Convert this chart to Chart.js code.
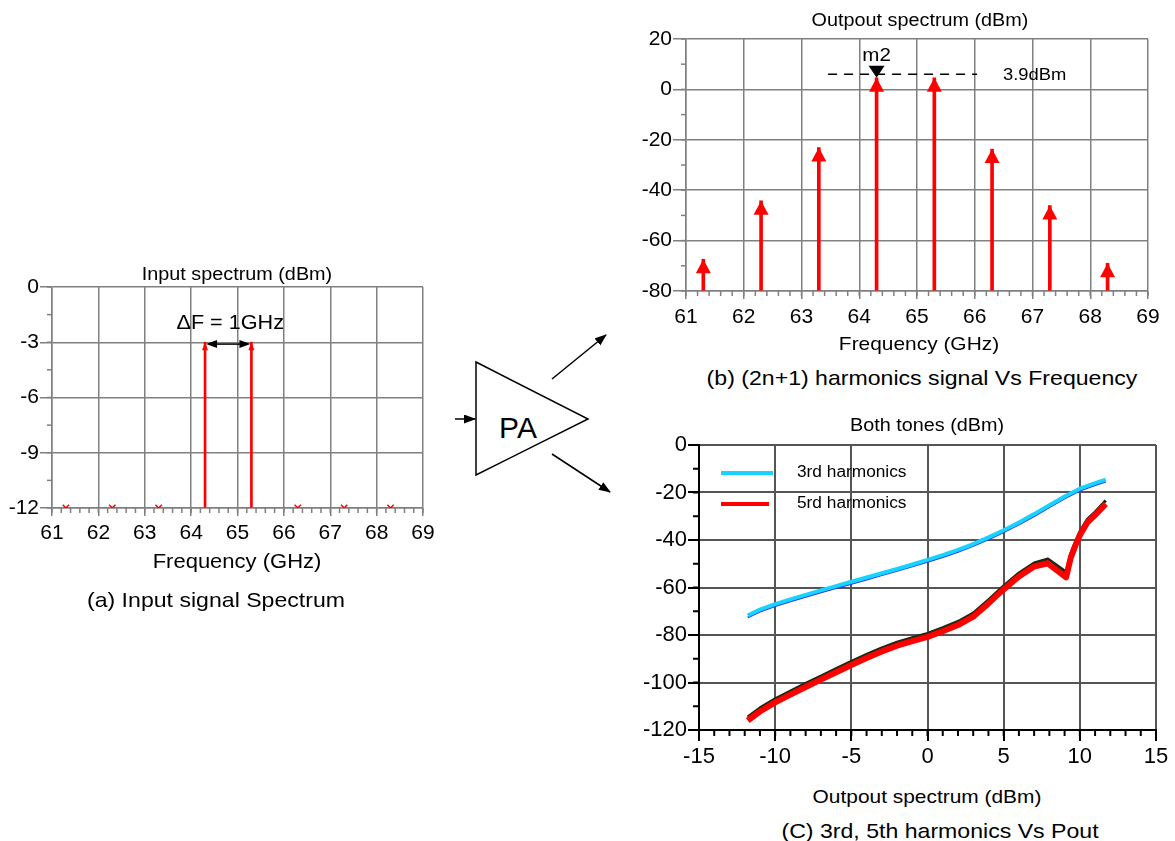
<!DOCTYPE html>
<html>
<head>
<meta charset="utf-8">
<script src="https://cdn.jsdelivr.net/npm/chart.js@4.4.0/dist/chart.umd.min.js"></script>
<style>
  body { margin: 0; width: 1175px; height: 841px; background: #fff; position: relative; overflow: hidden;
         font-family: "Liberation Sans", Arial, sans-serif; color: #000; }
  .box { position: absolute; }
  .t { position: absolute; transform: translate(-50%, -50%) scaleX(1.1); white-space: nowrap; line-height: 1; }
</style>
</head>
<body>

<svg class="box" style="left:0;top:0" width="1175" height="841">
  <defs>
    <marker id="head" markerUnits="userSpaceOnUse" markerWidth="12" markerHeight="10" refX="11" refY="4.5" orient="auto">
      <path d="M0,0 L12,4.5 L0,9 z" fill="#000"/>
    </marker>
  </defs>
  <polygon points="476,362 588,419 476,475" fill="none" stroke="#000" stroke-width="1.5"/>
  <line x1="455" y1="419" x2="475" y2="419" stroke="#000" stroke-width="1.5" marker-end="url(#head)"/>
  <text x="518" y="438" font-size="30" text-anchor="middle" font-family="Liberation Sans, Arial, sans-serif">PA</text>
  <line x1="552" y1="379" x2="606" y2="335" stroke="#000" stroke-width="1.5" marker-end="url(#head)"/>
  <line x1="552" y1="454" x2="610" y2="492" stroke="#000" stroke-width="1.5" marker-end="url(#head)"/>
</svg>

<div class="box" style="left:0;top:273px;width:440px;height:280px"><canvas id="chartIn"></canvas></div>
<div class="box" style="left:600px;top:25px;width:575px;height:311px"><canvas id="chartOut"></canvas></div>
<div class="box" style="left:600px;top:430px;width:575px;height:345px"><canvas id="chartHarm"></canvas></div>

<div class="t" style="left:237px;top:274px;font-size:18px">Input spectrum (dBm)</div>
<div class="t" style="left:237px;top:561px;font-size:20px">Frequency (GHz)</div>
<div class="t" style="left:216px;top:599px;font-size:21px">(a) Input signal Spectrum</div>

<div class="t" style="left:920px;top:20px;font-size:18px">Outpout spectrum (dBm)</div>
<div class="t" style="left:919px;top:343px;font-size:19px">Frequency (GHz)</div>
<div class="t" style="left:922px;top:377px;font-size:21px">(b) (2n+1) harmonics signal Vs Frequency</div>

<div class="t" style="left:927px;top:425px;font-size:18px">Both tones (dBm)</div>
<div class="t" style="left:927px;top:796px;font-size:19px">Outpout spectrum (dBm)</div>
<div class="t" style="left:940px;top:830px;font-size:21px">(C) 3rd, 5th harmonics Vs Pout</div>

<script>
const FONT = '"Liberation Sans", Arial, sans-serif';

// (a) input spectrum
const inFreq = [64.3, 65.3];
const inPower = [-3, -3];
const inSpurFreq = [61.3, 62.3, 63.3, 66.3, 67.3, 68.3];
const inSpurPower = [-12, -12, -12, -12, -12, -12];
const inXTicks = [61, 62, 63, 64, 65, 66, 67, 68, 69];
const inYTicks = [-12, -9, -6, -3, 0];
const deltaLevel = -3.1;

// (b) output spectrum
const outFreq = [61.3, 62.3, 63.3, 64.3, 65.3, 66.3, 67.3, 68.3];
const outPower = [-67.4, -44.2, -23.1, 4.6, 4.6, -23.7, -46.1, -69];
const outXTicks = [61, 62, 63, 64, 65, 66, 67, 68, 69];
const outYTicks = [-80, -60, -40, -20, 0, 20];
const markerFreq = [64.3];
const markerPower = [4.6];
const markerLineFreq = [63.46, 66.04];
const markerLineLevel = [6, 6];

// (c) harmonics vs output power
const pout3 = [-11.8, -11, -10, -9, -8, -7, -6, -5, -4, -3, -2, -1, 0, 1, 2, 3, 4, 5, 6, 7, 8, 9, 10, 11, 11.7];
const harm3 = [-71.8, -69.3, -67, -65, -63.1, -61.2, -59.4, -57.6, -55.8, -54, -52.2, -50.3, -48.4, -46.4, -44.2, -41.7, -38.9, -35.9, -32.6, -29.1, -25.4, -21.7, -18.4, -16.1, -14.6];
const harm3Under = [-72.6, -70.1, -67.8, -65.8, -63.9, -62, -60.2, -58.4, -56.6, -54.8, -53, -51.1, -49.2, -47.2, -45, -42.5, -39.7, -36.7, -33.4, -29.9, -26.2, -22.5, -19.2, -16.9, -15.4];
const pout5 = [-11.8, -11, -10, -9, -8, -7, -6, -5, -4, -3, -2, -1, 0, 1, 2, 3, 4, 5, 6, 7, 7.9, 9.1, 9.4, 9.7, 10, 10.5, 11, 11.7];
const harm5 = [-116, -112.2, -108.4, -105.1, -101.9, -98.8, -95.7, -92.6, -89.7, -86.9, -84.5, -82.6, -80.8, -78.4, -75.8, -72.3, -66.7, -60.8, -55.4, -51.2, -49.8, -55.7, -47.5, -42.5, -38, -32.5, -29.5, -24.8];
const harm5Under = [-114.5, -110.7, -106.9, -103.6, -100.4, -97.3, -94.2, -91.1, -88.2, -85.4, -83, -81.1, -79.3, -76.9, -74.3, -70.8, -65.2, -59.3, -53.9, -49.7, -48, -53.5, -45.8, -41, -36.5, -31.2, -28.2, -23.4];
const harmXTicks = [-15, -10, -5, 0, 5, 10, 15];
const harmYTicks = [-120, -100, -80, -60, -40, -20, 0];
const legendLabels = ["3rd harmonics", "5rd harmonics"];

const pts = (xs, ys) => xs.map((x, i) => ({ x: x, y: ys[i] }));

function linAxis(ticks, o) {
  return {
    type: "linear",
    min: ticks[0],
    max: ticks[ticks.length - 1],
    offset: false,
    afterBuildTicks: s => { s.ticks = ticks.map(v => ({ value: v })); },
    afterFit: s => {
      if (o.width) s.width = o.width;
      if (o.height) s.height = o.height;
    },
    grid: { color: o.grid, lineWidth: o.gridWidth, tickLength: o.tickLength, tickColor: o.tickColor || o.grid, offset: false },
    border: { color: o.border, width: o.borderWidth },
    ticks: { color: "#000", font: { family: FONT, size: o.font }, padding: o.padding, maxRotation: 0, autoSkip: false }
  };
}

// text squeezed wider, like the source figure
function wideText(ctx, text, x, y, align, size) {
  ctx.save();
  ctx.font = size + "px " + FONT;
  ctx.textAlign = align;
  ctx.textBaseline = "middle";
  ctx.translate(x, y);
  ctx.scale(1.08, 1);
  ctx.fillText(text, 0, 0);
  ctx.restore();
}

// small ticks between the labelled ones
const minorTicks = {
  id: "minorTicks",
  afterDraw(chart, args, opts) {
    const { ctx, chartArea } = chart;
    const x = chart.scales.x, y = chart.scales.y;
    ctx.save();
    ctx.strokeStyle = opts.color;
    ctx.lineWidth = opts.width;
    const nx = Math.round((x.max - x.min) / opts.xStep);
    for (let i = 0; i <= nx; i++) {
      const px = x.getPixelForValue(x.min + i * opts.xStep);
      ctx.beginPath();
      ctx.moveTo(px, chartArea.bottom);
      ctx.lineTo(px, chartArea.bottom + opts.len);
      ctx.stroke();
    }
    const ny = Math.round((y.max - y.min) / opts.yStep);
    for (let i = 0; i <= ny; i++) {
      const py = y.getPixelForValue(y.min + i * opts.yStep);
      ctx.beginPath();
      ctx.moveTo(chartArea.left, py);
      ctx.lineTo(chartArea.left - opts.len, py);
      ctx.stroke();
    }
    ctx.restore();
  }
};

function arrowHeads(chart, dsIndex, w, h, color) {
  const ctx = chart.ctx;
  ctx.save();
  ctx.fillStyle = color;
  chart.getDatasetMeta(dsIndex).data.forEach(bar => {
    ctx.beginPath();
    ctx.moveTo(bar.x, bar.y);
    ctx.lineTo(bar.x - w / 2, bar.y + h);
    ctx.lineTo(bar.x + w / 2, bar.y + h);
    ctx.closePath();
    ctx.fill();
  });
  ctx.restore();
}

Chart.defaults.font.family = FONT;
Chart.defaults.animation = false;
Chart.defaults.plugins.legend.display = false;
Chart.defaults.plugins.tooltip.enabled = false;

// (a)
new Chart(document.getElementById("chartIn"), {
  type: "bar",
  data: {
    datasets: [{
      type: "bar",
      data: pts(inFreq, inPower),
      base: inYTicks[0],
      backgroundColor: "#ff0000",
      borderWidth: 0,
      barThickness: 2
    }, {
      type: "scatter",
      data: pts(inSpurFreq, inSpurPower),
      pointStyle: "crossRot",
      pointRadius: 4.5,
      borderColor: "#ff0000",
      backgroundColor: "#ff0000",
      borderWidth: 1.5
    }]
  },
  options: {
    responsive: true,
    maintainAspectRatio: false,
    layout: { padding: { top: 14, right: 17, left: 0, bottom: 0 } },
    scales: {
      x: linAxis(inXTicks, { height: 45, grid: "#808080", gridWidth: 1.5, tickLength: 8, border: "#808080", borderWidth: 1.5, font: 21, padding: 5 }),
      y: linAxis(inYTicks, { width: 52, grid: "#808080", gridWidth: 1.5, tickLength: 12, border: "#808080", borderWidth: 1.5, font: 21, padding: 1 })
    },
    plugins: { minorTicks: { xStep: 0.2, yStep: 1.5, len: 5, color: "#808080", width: 1.5 } }
  },
  plugins: [minorTicks, {
    id: "inMarks",
    afterDatasetsDraw(chart) {
      arrowHeads(chart, 0, 6, 8, "#ff0000");
      const { ctx } = chart;
      const bars = chart.getDatasetMeta(0).data;
      const x0 = bars[0].x + 1, x1 = bars[1].x - 1;
      const y = chart.scales.y.getPixelForValue(deltaLevel);
      ctx.save();
      ctx.strokeStyle = "#000";
      ctx.fillStyle = "#000";
      ctx.lineWidth = 1.5;
      ctx.beginPath();
      ctx.moveTo(x0 + 8, y);
      ctx.lineTo(x1 - 8, y);
      ctx.stroke();
      [[x0, 1], [x1, -1]].forEach(([px, d]) => {
        ctx.beginPath();
        ctx.moveTo(px, y);
        ctx.lineTo(px + d * 11, y - 4);
        ctx.lineTo(px + d * 11, y + 4);
        ctx.closePath();
        ctx.fill();
      });
      ctx.restore();
      wideText(ctx, "\u0394F = 1GHz", (x0 + x1) / 2 + 2, y - 21, "center", 20);
    }
  }]
});

// (b)
new Chart(document.getElementById("chartOut"), {
  type: "bar",
  data: {
    datasets: [{
      type: "bar",
      data: pts(outFreq, outPower),
      base: outYTicks[0],
      backgroundColor: "#ff0000",
      borderWidth: 0,
      barThickness: 3
    }, {
      type: "line",
      data: pts(markerLineFreq, markerLineLevel),
      borderColor: "#000",
      borderWidth: 1.5,
      borderDash: [9, 7],
      pointRadius: 0
    }, {
      type: "scatter",
      data: pts(markerFreq, markerPower),
      pointRadius: 0
    }]
  },
  options: {
    responsive: true,
    maintainAspectRatio: false,
    layout: { padding: { top: 14, right: 27, left: 0, bottom: 0 } },
    scales: {
      x: linAxis(outXTicks, { height: 45, grid: "#808080", gridWidth: 1.5, tickLength: 8, border: "#808080", borderWidth: 1.5, font: 21, padding: 6 }),
      y: linAxis(outYTicks, { width: 86, grid: "#808080", gridWidth: 1.5, tickLength: 13, border: "#808080", borderWidth: 1.5, font: 21, padding: 1 })
    },
    plugins: { minorTicks: { xStep: 0.2, yStep: 10, len: 5, color: "#808080", width: 1.5 } }
  },
  plugins: [minorTicks, {
    id: "outMarks",
    afterDatasetsDraw(chart) {
      arrowHeads(chart, 0, 15, 14, "#ff0000");
      const { ctx } = chart;
      const m = chart.getDatasetMeta(2).data[0];
      const lineEnd = chart.getDatasetMeta(1).data[1];
      ctx.save();
      ctx.fillStyle = "#000";
      ctx.beginPath();
      ctx.moveTo(m.x, m.y);
      ctx.lineTo(m.x - 8, m.y - 12);
      ctx.lineTo(m.x + 8, m.y - 12);
      ctx.closePath();
      ctx.fill();
      ctx.restore();
      wideText(ctx, "m2", m.x, m.y - 22, "center", 19);
      wideText(ctx, "3.9dBm", lineEnd.x + 26, lineEnd.y + 1, "left", 17);
    }
  }]
});

// (c)
new Chart(document.getElementById("chartHarm"), {
  type: "line",
  data: {
    datasets: [
      { data: pts(pout3, harm3), borderColor: "#19d3ff", borderWidth: 4 },
      { data: pts(pout3, harm3Under), borderColor: "#1f2bff", borderWidth: 2 },
      { data: pts(pout5, harm5), borderColor: "#ff0000", borderWidth: 6 },
      { data: pts(pout5, harm5Under), borderColor: "#1b2a12", borderWidth: 3 }
    ]
  },
  options: {
    responsive: true,
    maintainAspectRatio: false,
    layout: { padding: { top: 15, right: 19, left: 0, bottom: 0 } },
    elements: { point: { radius: 0 }, line: { tension: 0, borderJoinStyle: "round" } },
    scales: {
      x: linAxis(harmXTicks, { height: 45, grid: "#555", gridWidth: 2, tickLength: 11, tickColor: "#000", border: "#000", borderWidth: 2, font: 22, padding: 3 }),
      y: linAxis(harmYTicks, { width: 99, grid: "#555", gridWidth: 2, tickLength: 11, tickColor: "#000", border: "#000", borderWidth: 2, font: 22, padding: 1 })
    },
    plugins: { minorTicks: { xStep: 1, yStep: 10, len: 6, color: "#000", width: 2 } }
  },
  plugins: [minorTicks, {
    id: "insideLegend",
    afterDatasetsDraw(chart) {
      const { ctx, chartArea } = chart;
      const colors = ["#19d3ff", "#ff0000"];
      ctx.save();
      legendLabels.forEach((label, i) => {
        const y = chartArea.top + 28 + i * 31;
        ctx.strokeStyle = colors[i];
        ctx.lineWidth = 4;
        ctx.beginPath();
        ctx.moveTo(chartArea.left + 22, y);
        ctx.lineTo(chartArea.left + 74 - i * 4, y);
        ctx.stroke();
      });
      ctx.restore();
      legendLabels.forEach((label, i) => {
        wideText(ctx, label, chartArea.left + 98, chartArea.top + 28 + i * 31, "left", 16);
      });
    }
  }]
});
</script>
</body>
</html>
